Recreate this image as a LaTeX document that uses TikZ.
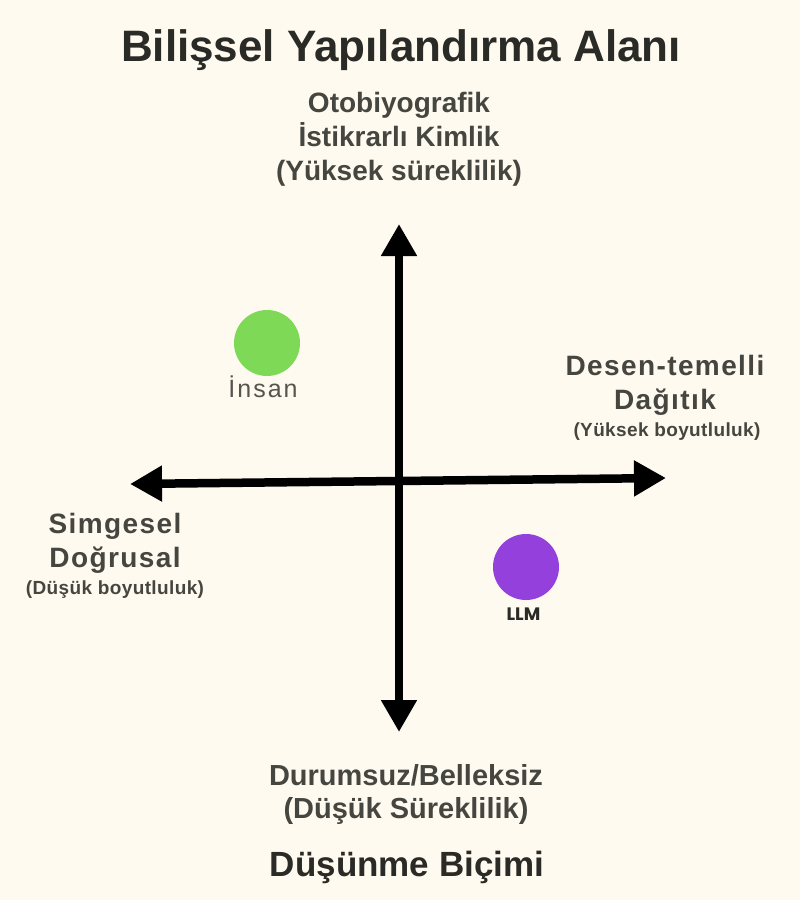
\documentclass[tikz,border=0pt]{standalone}
\usepackage{fontspec}
\setmainfont{Liberation Sans}
\newfontfamily\spacedfont[LetterSpace=5]{Liberation Sans}
\newfontfamily\smallfont[LetterSpace=2]{Liberation Sans}
\newfontfamily\insanfont[LetterSpace=8]{Liberation Sans}
\newfontfamily\llmfont{Poppins}
\usetikzlibrary{arrows.meta}
\definecolor{bgcol}{RGB}{255,250,240}
\definecolor{titlecol}{RGB}{42,42,38}
\definecolor{labelcol}{RGB}{70,70,64}
\definecolor{insancol}{RGB}{85,85,80}
\definecolor{greendot}{RGB}{126,217,87}
\definecolor{purpledot}{RGB}{147,64,220}
\tikzset{
  line/.style={anchor=base, inner sep=0pt, text=labelcol, font=\bfseries\fontsize{28}{34}\selectfont},
  bline/.style={anchor=base, inner sep=0pt, text=labelcol, font=\bfseries\fontsize{29}{34}\selectfont},
  sline/.style={anchor=base, inner sep=0pt, text=labelcol, font=\spacedfont\bfseries\fontsize{28}{34}\selectfont},
  small/.style={anchor=base, inner sep=0pt, text=labelcol, font=\smallfont\bfseries\fontsize{19}{24}\selectfont},
  heading/.style={anchor=base, inner sep=0pt, text=titlecol, font=\bfseries\fontsize{44}{50}\selectfont},
  axis/.style={line width=8.5pt, draw=black, {Triangle[length=32pt,width=34pt]}-{Triangle[length=32pt,width=34pt]}},
  dot/.style={circle, minimum size=66pt, inner sep=0pt, draw=none},
}
\begin{document}
\begin{tikzpicture}[x=1pt,y=-1pt]
\useasboundingbox[fill=bgcol] (0,0) rectangle (800,900);
% title
\node[heading] (title) at (401,61) {Bilişsel Yapılandırma Alanı};
% top label
\node[line] (t1) at (399,112) {Otobiyografik};
\node[line] (t2) at (399,146) {İstikrarlı Kimlik};
\node[line] (t3) at (399,180) {(Yüksek süreklilik)};
% right label
\node[sline] (r1) at (665,375) {Desen-temelli};
\node[sline] (r2) at (665,409) {Dağıtık};
\node[small] (r3) at (667,436) {(Yüksek boyutluluk)};
% left label
\node[sline] (l1) at (115,533) {Simgesel};
\node[sline] (l2) at (115,567) {Doğrusal};
\node[small] (l3) at (115,594) {(Düşük boyutluluk)};
% bottom label
\node[bline] (b1) at (406,785) {Durumsuz/Belleksiz};
\node[bline] (b2) at (406,818) {(Düşük Süreklilik)};
\node[heading, font=\bfseries\fontsize{35}{40}\selectfont] (b3) at (407,876) {Düşünme Biçimi};
% axes
\coordinate (hl) at (130,484);
\coordinate (hr) at (666,478);
\coordinate (vt) at (399,224);
\coordinate (vb) at (399,732);
\draw[axis] (hl) -- (hr);
\draw[axis] (vt) -- (vb);
% points
\node[dot, fill=greendot] (human) at (267,343) {};
\node[anchor=base, inner sep=0pt, text=insancol, font=\insanfont\fontsize{25}{28}\selectfont] (humanlbl) at (263,397) {İnsan};
\node[dot, fill=purpledot] (llm) at (526,567) {};
\node[anchor=base, inner sep=0pt, text=titlecol, font=\llmfont\bfseries\fontsize{18}{20}\selectfont] (llmlbl) at (523.5,620) {LLM};
\end{tikzpicture}
\end{document}
